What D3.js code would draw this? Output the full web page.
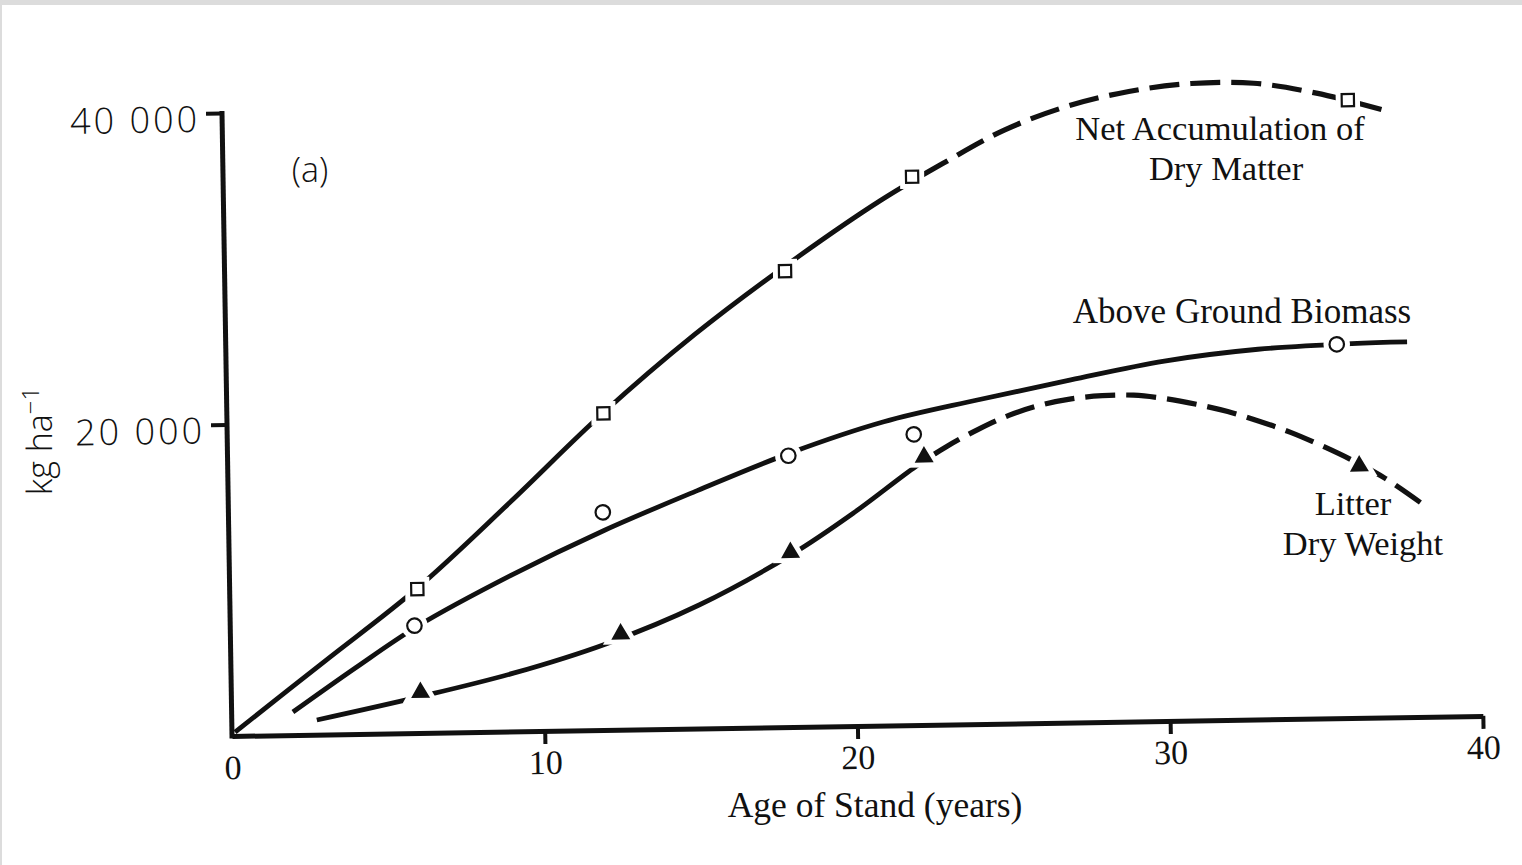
<!DOCTYPE html>
<html>
<head>
<meta charset="utf-8">
<script src="https://cdn.jsdelivr.net/npm/d3@7"></script>
<style>
	body { margin: 0; background: #fff; }
	.serif { font-family: 'Liberation Serif', 'Times New Roman', serif; fill: #111; }
	.sans { font-family: 'Open Sans', 'Lato', 'DejaVu Sans', sans-serif; font-weight: 300; fill: #111; }
</style>
</head>
<body>
<script>
// axis ticks
const xTicks = [0, 10, 20, 30, 40];
const xTickLabels = ['0', '10', '20', '30', '40'];
const yTicks = [20000, 40000];
const yTickLabels = ['20 000', '40 000'];

// Net Accumulation of Dry Matter (squares)
const netMarkAge = [6.0, 12.04, 17.92, 22.03, 36.0];
const netMarkKg = [9243, 20330, 29277, 35200, 39670];
const netCurveAge = [0.1, 3, 6, 9, 12, 15, 18, 21, 23, 25, 27, 29, 31, 33, 35, 37.3];
const netCurveKg = [250, 4700, 9300, 14700, 20300, 25300, 29700, 33700, 36000, 38100, 39550, 40450, 40900, 40850, 40150, 38900];

// Above Ground Biomass (circles)
const bioMarkAge = [5.89, 11.97, 17.93, 21.95, 35.52];
const bioMarkKg = [6893, 13976, 17418, 18662, 24006];
const bioCurveAge = [1.96, 4, 6, 9, 12, 15, 18, 21, 24, 27, 30, 33, 36, 37.77];
const bioCurveKg = [1477, 4272, 6872, 10022, 12812, 15272, 17600, 19500, 20800, 22000, 23110, 23770, 24040, 24085];

// Litter Dry Weight (triangles)
const litMarkAge = [6.05, 12.48, 17.95, 22.27, 36.18];
const litMarkKg = [2600, 6148, 11204, 17195, 16170];
const litCurveAge = [2.72, 6, 9, 12, 15, 18, 20, 22, 23, 24, 25, 26, 27, 28, 29, 30, 31, 32, 33, 34, 35, 36, 37, 38.19];
const litCurveKg = [940, 2318, 3728, 5528, 7928, 11100, 13700, 16600, 17850, 18900, 19780, 20400, 20780, 20950, 20950, 20700, 20300, 19800, 19150, 18400, 17500, 16500, 15350, 13650];

// age from which each fitted curve turns dashed (null = solid all the way)
const netDashFrom = 22.03;
const bioDashFrom = null;
const litDashFrom = 22.27;

function zip(a, b) { return a.map(function(v, i) { return [v, b[i]]; }); }

const series = [
	{ id: 'net', shape: d3.symbolSquare, size: 150, fill: '#fff', curve: zip(netCurveAge, netCurveKg), marks: zip(netMarkAge, netMarkKg), dashFrom: netDashFrom },
	{ id: 'bio', shape: d3.symbolCircle, size: 165, fill: '#fff', curve: zip(bioCurveAge, bioCurveKg), marks: zip(bioMarkAge, bioMarkKg), dashFrom: bioDashFrom },
	{ id: 'lit', shape: d3.symbolTriangle, size: 100, fill: '#111', curve: zip(litCurveAge, litCurveKg), marks: zip(litMarkAge, litMarkKg), dashFrom: litDashFrom }
];

const width = 1522, height = 865;
const dashLen = 30, gapLen = 11;

const svg = d3.select('body').append('svg')
	.attr('width', width)
	.attr('height', height);

svg.append('rect').attr('width', width).attr('height', height).attr('fill', '#fff');
svg.append('rect').attr('width', width).attr('height', 5).attr('fill', '#dcdcdc');
svg.append('rect').attr('width', 2).attr('height', height).attr('fill', '#dcdcdc');

const x = d3.scaleLinear().domain([0, 40]).range([232, 1483]);
const y = d3.scaleLinear().domain([0, 40000]).range([736, 113]);

// the scanned figure is tilted slightly
const plot = svg.append('g').attr('transform', 'rotate(-0.92,232,736)');

// axes
const xAxis = plot.append('g')
	.attr('transform', 'translate(0,736)')
	.call(d3.axisBottom(x).tickValues(xTicks).tickSize(13).tickPadding(6).tickSizeOuter(0)
		.tickFormat(function(d, i) { return xTickLabels[i]; }));
xAxis.select('.domain').attr('stroke', '#111').attr('stroke-width', 5);
xAxis.selectAll('.tick line').attr('stroke', '#111').attr('stroke-width', 4)
	.attr('opacity', function(d) { return d === 0 ? 0 : 1; });
xAxis.selectAll('.tick text').attr('class', 'serif').attr('font-size', 34).attr('fill', '#111');

const yAxis = plot.append('g')
	.attr('transform', 'translate(232,0)')
	.call(d3.axisLeft(y).tickValues(yTicks).tickSize(16).tickPadding(6).tickSizeOuter(0)
		.tickFormat(function(d, i) { return yTickLabels[i]; }));
yAxis.select('.domain').attr('stroke', '#111').attr('stroke-width', 5)
	.attr('d', 'M0,' + (y(0) + 2.5) + 'V' + (y(40000) - 2));
yAxis.selectAll('.tick line').attr('stroke', '#111').attr('stroke-width', 4);
yAxis.selectAll('.tick text').attr('class', 'sans').attr('font-size', 36)
	.attr('letter-spacing', 3).attr('dy', '0.5em').attr('fill', '#111');
xAxis.attr('font-family', null);
yAxis.attr('font-family', null);

// fitted curves, solid part and dashed part via clips
const defs = svg.append('defs');
const line = d3.line()
	.x(function(d) { return x(d[0]); })
	.y(function(d) { return y(d[1]); })
	.curve(d3.curveCatmullRom.alpha(0.5));

// path length at which the curve reaches screen x = px
function lengthAtX(node, px)
{
	let lo = 0, hi = node.getTotalLength();
	for (let i = 0; i < 40; i++)
	{
		const mid = (lo + hi) / 2;
		if (node.getPointAtLength(mid).x < px) lo = mid; else hi = mid;
	}
	return lo;
}

series.forEach(function(s)
{
	const split = s.dashFrom === null ? 45 : s.dashFrom;
	defs.append('clipPath').attr('id', 'solid-' + s.id)
		.append('rect').attr('x', 0).attr('y', 0).attr('width', x(split)).attr('height', height);
	defs.append('clipPath').attr('id', 'dash-' + s.id)
		.append('rect').attr('x', x(split)).attr('y', 0).attr('width', width).attr('height', height);

	plot.append('path')
		.datum(s.curve)
		.attr('clip-path', 'url(#solid-' + s.id + ')')
		.attr('fill', 'none')
		.attr('stroke', '#111')
		.attr('stroke-width', 4.8)
		.attr('d', line);
	const dashed = plot.append('path')
		.datum(s.curve)
		.attr('clip-path', 'url(#dash-' + s.id + ')')
		.attr('fill', 'none')
		.attr('stroke', '#111')
		.attr('stroke-width', 5.2)
		.attr('stroke-dasharray', dashLen + ',' + gapLen)
		.attr('d', line);
	if (s.dashFrom !== null)
	{
		// first dash begins just past the marker
		const start = lengthAtX(dashed.node(), x(split)) + 11;
		dashed.attr('stroke-dashoffset', -start);
	}
});

// markers with a white halo that breaks the line
series.forEach(function(s)
{
	const sym = d3.symbol().type(s.shape).size(s.size);
	plot.append('g').selectAll('path')
		.data(s.marks)
		.enter()
		.append('path')
			.attr('transform', function(d) { return 'translate(' + x(d[0]) + ',' + y(d[1]) + ')'; })
			.attr('d', sym)
			.attr('fill', '#fff')
			.attr('stroke', '#fff')
			.attr('stroke-width', 12);
	plot.append('g').selectAll('path')
		.data(s.marks)
		.enter()
		.append('path')
			.attr('transform', function(d) { return 'translate(' + x(d[0]) + ',' + y(d[1]) + ')'; })
			.attr('d', sym)
			.attr('fill', s.fill)
			.attr('stroke', '#111')
			.attr('stroke-width', 2.2);
});

// labels
function label(txt, cx, base, cls, size)
{
	svg.append('text')
		.attr('class', cls)
		.attr('x', cx)
		.attr('y', base)
		.attr('text-anchor', 'middle')
		.attr('font-size', size)
		.text(txt);
}
label('Net Accumulation of', 1220, 140, 'serif', 34.5);
label('Dry Matter', 1226, 180, 'serif', 34.5);
label('Above Ground Biomass', 1242, 323, 'serif', 35);
label('Litter', 1353, 515, 'serif', 34.5);
label('Dry Weight', 1363, 555, 'serif', 34.5);
label('Age of Stand (years)', 875, 817, 'serif', 35.5);
label('(a)', 310, 182, 'sans', 34);

const yLabel = svg.append('text')
	.attr('class', 'sans')
	.attr('transform', 'translate(52,441) rotate(-90)')
	.attr('text-anchor', 'middle')
	.attr('font-size', 34);
yLabel.append('tspan').text('kg ha');
yLabel.append('tspan').attr('dy', -13).attr('font-size', 24).text('\u22121');
</script>
</body>
</html>
